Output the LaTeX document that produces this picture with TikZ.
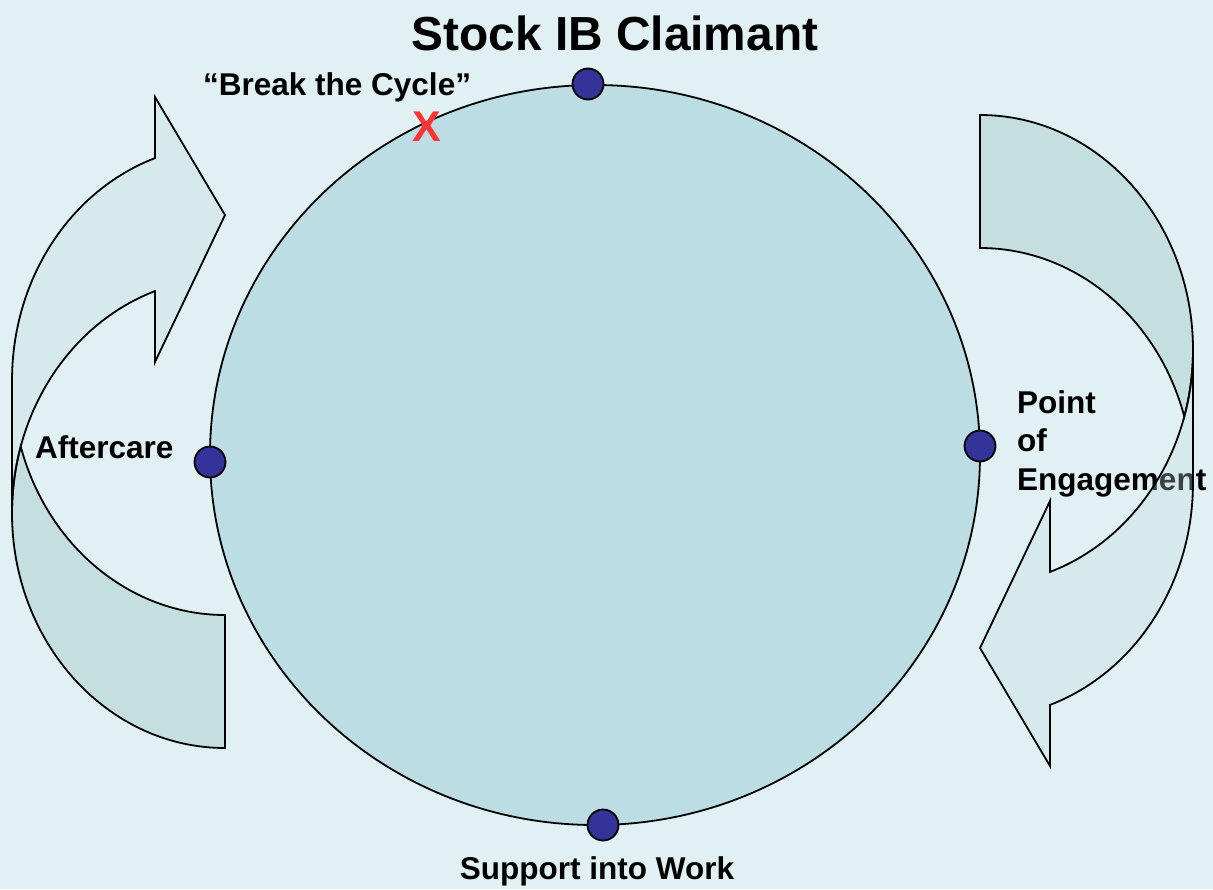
\documentclass[tikz,border=0pt]{standalone}
\usepackage{fontspec}
\setmainfont{Liberation Sans}
\usetikzlibrary{shapes.geometric}

\definecolor{paper}{HTML}{E0F0F3}
\definecolor{disc}{HTML}{BBDDE3}
\definecolor{dotblue}{HTML}{333399}
\definecolor{bandfront}{RGB}{191,223,226}
\definecolor{bandback}{RGB}{137,183,183}
\definecolor{breakred}{HTML}{FF3333}

\tikzset{
  band/.style={draw=black, line width=1.8pt, line join=miter, fill opacity=0.3},
  frontband/.style={band, fill=bandfront},
  backband/.style={band, fill=bandback},
  stage/.style={circle, draw=black, line width=1.8pt, fill=dotblue, minimum size=31pt, inner sep=0pt},
  stagetext/.style={font=\bfseries\fontsize{31.5}{38.5}\selectfont, inner sep=0pt},
  pics/turnarrow/.style={code={
    % back half of the band
    \path[backband] (12,513) arc[start angle=180, end angle=90, x radius=213, y radius=235]
      -- (225,615) arc[start angle=90, end angle=163.56, x radius=213, y radius=235]
      arc[start angle=196.44, end angle=180, x radius=213, y radius=235] -- cycle;
    % front half with the head
    \path[frontband] (155,158.1) arc[start angle=250.8, end angle=180, x radius=213, y radius=235]
      -- (12,513) arc[start angle=180, end angle=250.8, x radius=213, y radius=235]
      -- (155,362) -- (225,215) -- (155,97) -- cycle;
  }}
}

\begin{document}
\begin{tikzpicture}[x=1pt, y=-1pt]
  \fill[paper] (0,0) rectangle (1213,889);
  \useasboundingbox (0,0) rectangle (1213,889);

  \pic at (0,0) {turnarrow};

  \node (loopdisc) [draw, ellipse, line width=1.8pt, fill=disc, minimum width=770pt, minimum height=740pt, inner sep=0pt] at (595,455) {};

  \node[stage] (ptop) at (588,84) {};
  \node[stage] (pleft) at (210,462) {};
  \node[stage] (pright) at (980,446) {};
  \node[stage] (pbottom) at (603,825) {};

  \node[anchor=base, inner sep=0pt, font=\bfseries\fontsize{47.8}{56}\selectfont] (title) at (615,50) {Stock IB Claimant};
  \node[stagetext, anchor=base west] (breakcycle) at (203,95) {“Break the Cycle”};
  \node[text=breakred, inner sep=0pt, font=\bfseries\fontsize{43}{48}\selectfont] (breakmark) at (427,127) {X};
  \node[stagetext, anchor=base west] (aftercare) at (35,458) {Aftercare};
  \node[stagetext, anchor=north west, align=left] (engage) at (1017,390) {Point\\of\\Engagement};
  \node[stagetext, anchor=base] (support) at (597,879) {Support into Work};

  \pic[rotate=180] at (1205,863) {turnarrow};
\end{tikzpicture}
\end{document}
